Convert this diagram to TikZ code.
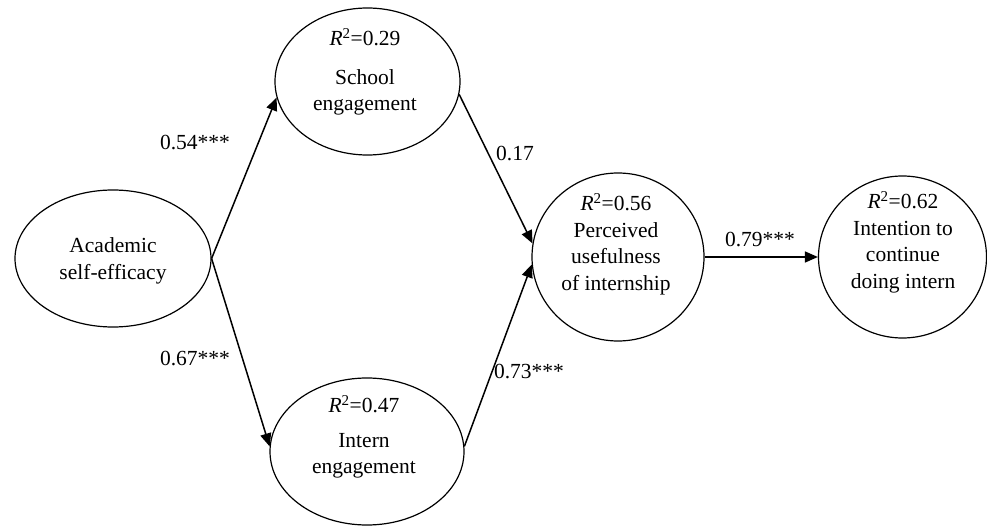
\documentclass[tikz,border=0pt]{standalone}
\usepackage{fontspec}
\setmainfont{Liberation Serif}
\usetikzlibrary{shapes.geometric,arrows.meta}
\tikzset{
  construct/.style={draw, ellipse, line width=1.2pt, inner sep=0pt},
  ctext/.style={align=center, inner sep=0pt, font=\fontsize{21.5}{26.5}\selectfont},
  path/.style={draw, line width=1.5pt, -{Triangle[length=13pt,width=11pt]}},
  coef/.style={inner sep=0pt, font=\fontsize{21.5}{26.5}\selectfont}
}
\begin{document}
\begin{tikzpicture}[x=1pt,y=-1pt]
\useasboundingbox (0,0) rectangle (987,526);
% ellipses
\node[construct, minimum width=196pt, minimum height=137pt] (acad) at (113,258.5) {};
\node[construct, minimum width=185pt, minimum height=147pt] (school) at (367.5,81.5) {};
\node[construct, minimum width=194pt, minimum height=147pt] (intern) at (367,451.5) {};
\node[construct, minimum width=172pt, minimum height=168pt] (perc) at (618,257) {};
\node[construct, minimum width=168pt, minimum height=162pt] (intent) at (902.5,257) {};
% texts
\node[ctext] (acadt) at (113,261) {Academic\\self-efficacy};
\node[ctext] (schoolt) at (365,72) {\textit{R}\textsuperscript{2}=0.29\\[12pt]School\\engagement};
\node[ctext] (interntt) at (364,437) {\textit{R}\textsuperscript{2}=0.47\\[8pt]Intern\\engagement};
\node[ctext] (perct) at (616,244) {\textit{R}\textsuperscript{2}=0.56\\Perceived\\usefulness\\of internship};
\node[ctext] (intentt) at (903,242) {\textit{R}\textsuperscript{2}=0.62\\Intention to\\continue\\doing intern};
% paths
\draw[path] (acad.east) -- (school.190);
\draw[path] (acad.east) -- (intern.177);
\draw[path] (school.-8) -- (perc.171);
\draw[path] (intern.3) -- (perc.185);
\draw[path] (perc.east) -- (intent.west);
% coefficients
\node[coef] (c1) at (195,143) {0.54***};
\node[coef] (c2) at (195,359) {0.67***};
\node[coef] (c3) at (515,154) {0.17};
\node[coef] (c4) at (529,372) {0.73***};
\node[coef] (c5) at (760,240) {0.79***};
\end{tikzpicture}
\end{document}
